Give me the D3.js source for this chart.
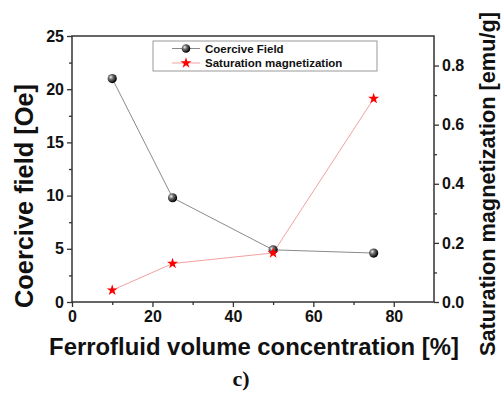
<!DOCTYPE html>
<html>
<head>
<meta charset="utf-8">
<script src="https://cdn.jsdelivr.net/npm/d3@7"></script>
<style>
  html, body { margin: 0; padding: 0; background: #fff; }
  svg { display: block; font-family: "Liberation Sans", Arial, sans-serif; }
</style>
</head>
<body>
<svg id="chart" width="502" height="396"></svg>
<script>
// Volume concentration of ferrofluid [%]
const concentration = [10, 25, 50, 75];
// Coercive field [Oe]
const coerciveField = [21.0, 9.8, 4.9, 4.6];
// Saturation magnetization [emu/g]
const saturation = [0.04, 0.13, 0.166, 0.688];

const xTicks = [0, 20, 40, 60, 80];
const yLeftTicks = [0, 5, 10, 15, 20, 25];
const yRightTicks = [0.0, 0.2, 0.4, 0.6, 0.8];

const seriesNames = ["Coercive Field", "Saturation magnetization"];

const svg = d3.select("#chart");
const m = { left: 72, right: 434, top: 36, bottom: 302 };

const x = d3.scaleLinear().domain([0, 90]).range([m.left, m.right]);
const yL = d3.scaleLinear().domain([0, 25]).range([m.bottom, m.top]);
const yR = d3.scaleLinear().domain([0, 0.9]).range([m.bottom, m.top]);

// sphere shading for the coercive-field markers
const defs = svg.append("defs");
const grad = defs.append("radialGradient").attr("id", "ball")
  .attr("cx", "35%").attr("cy", "35%").attr("r", "65%");
grad.append("stop").attr("offset", "0%").attr("stop-color", "#f4f4f4");
grad.append("stop").attr("offset", "35%").attr("stop-color", "#777");
grad.append("stop").attr("offset", "100%").attr("stop-color", "#000");

// plot frame
svg.append("rect")
  .attr("x", m.left).attr("y", m.top)
  .attr("width", m.right - m.left).attr("height", m.bottom - m.top)
  .attr("fill", "none").attr("stroke", "#333").attr("stroke-width", 1.5);

function styleAxis(g) {
  g.select(".domain").remove();
  g.selectAll(".tick line").attr("stroke", "#333").attr("stroke-width", 1.3);
  g.selectAll(".tick text").attr("font-size", 16).attr("font-weight", "bold").attr("fill", "#111");
}

// bottom axis with minor ticks
svg.append("g").attr("transform", `translate(0,${m.bottom})`)
  .call(d3.axisBottom(x).tickValues(d3.range(10, 90, 20)).tickSize(3).tickFormat(""))
  .call(styleAxis);
svg.append("g").attr("transform", `translate(0,${m.bottom})`)
  .call(d3.axisBottom(x).tickValues(xTicks).tickSize(5).tickPadding(4).tickFormat(d3.format("d")))
  .call(styleAxis);

// left axis
svg.append("g").attr("transform", `translate(${m.left},0)`)
  .call(d3.axisLeft(yL).tickValues(d3.range(2.5, 25, 5)).tickSize(3).tickFormat(""))
  .call(styleAxis);
svg.append("g").attr("transform", `translate(${m.left},0)`)
  .call(d3.axisLeft(yL).tickValues(yLeftTicks).tickSize(5).tickPadding(3).tickFormat(d3.format("d")))
  .call(styleAxis);

// right axis
svg.append("g").attr("transform", `translate(${m.right},0)`)
  .call(d3.axisRight(yR).tickValues(d3.range(0.1, 0.9, 0.2)).tickSize(3).tickFormat(""))
  .call(styleAxis);
svg.append("g").attr("transform", `translate(${m.right},0)`)
  .call(d3.axisRight(yR).tickValues(yRightTicks).tickSize(5).tickPadding(3).tickFormat(d3.format(".1f")))
  .call(styleAxis);

// series lines
const lineC = d3.line().x((d, i) => x(concentration[i])).y(d => yL(d));
const lineS = d3.line().x((d, i) => x(concentration[i])).y(d => yR(d));

svg.append("path").attr("d", lineC(coerciveField))
  .attr("fill", "none").attr("stroke", "#8a8a8a").attr("stroke-width", 1);
svg.append("path").attr("d", lineS(saturation))
  .attr("fill", "none").attr("stroke", "#f4a0a0").attr("stroke-width", 1);

const star = d3.symbol().type(d3.symbolStar).size(38);

svg.selectAll(".ball").data(coerciveField).join("circle")
  .attr("cx", (d, i) => x(concentration[i])).attr("cy", d => yL(d))
  .attr("r", 4.6).attr("fill", "url(#ball)");

svg.selectAll(".star").data(saturation).join("path")
  .attr("d", star)
  .attr("transform", (d, i) => `translate(${x(concentration[i])},${yR(d)})`)
  .attr("fill", "#ff0000");

// legend
const lg = svg.append("g");
lg.append("rect").attr("x", 153).attr("y", 41).attr("width", 224).attr("height", 30)
  .attr("fill", "#fff").attr("stroke", "#999").attr("stroke-width", 1);
const ly = [48.5, 63];
lg.append("line").attr("x1", 172).attr("x2", 200).attr("y1", ly[0]).attr("y2", ly[0])
  .attr("stroke", "#8a8a8a");
lg.append("circle").attr("cx", 186).attr("cy", ly[0]).attr("r", 4.3).attr("fill", "url(#ball)");
lg.append("line").attr("x1", 172).attr("x2", 200).attr("y1", ly[1]).attr("y2", ly[1])
  .attr("stroke", "#f4a0a0");
lg.append("path").attr("d", star).attr("transform", `translate(186,${ly[1]})`).attr("fill", "#ff0000");
lg.selectAll(".lt").data(seriesNames).join("text")
  .attr("x", 205).attr("y", (d, i) => ly[i] + 4)
  .attr("font-size", 11.5).attr("font-weight", "bold").attr("fill", "#111")
  .text(d => d);

// axis titles, sized so each spans its given length
function title(text, tx, ty, angle, span) {
  const t = svg.append("text")
    .attr("transform", `translate(${tx},${ty}) rotate(${angle})`)
    .attr("text-anchor", "middle")
    .attr("font-size", 20).attr("font-weight", "bold").attr("fill", "#111")
    .text(text);
  const w = t.node().getComputedTextLength();
  t.attr("font-size", 20 * span / w);
  return t;
}
title("Ferrofluid volume concentration [%]", 254, 355, 0, 410);
title("Coercive field [Oe]", 33, 196, -90, 224);
title("Saturation magnetization [emu/g]", 495, 184, -90, 344);

// panel label
svg.append("text").attr("x", 241).attr("y", 386).attr("text-anchor", "middle")
  .attr("font-family", "'Liberation Serif', 'Times New Roman', serif")
  .attr("font-size", 22).attr("font-weight", "bold").attr("fill", "#111")
  .text("c)");
</script>
</body>
</html>
